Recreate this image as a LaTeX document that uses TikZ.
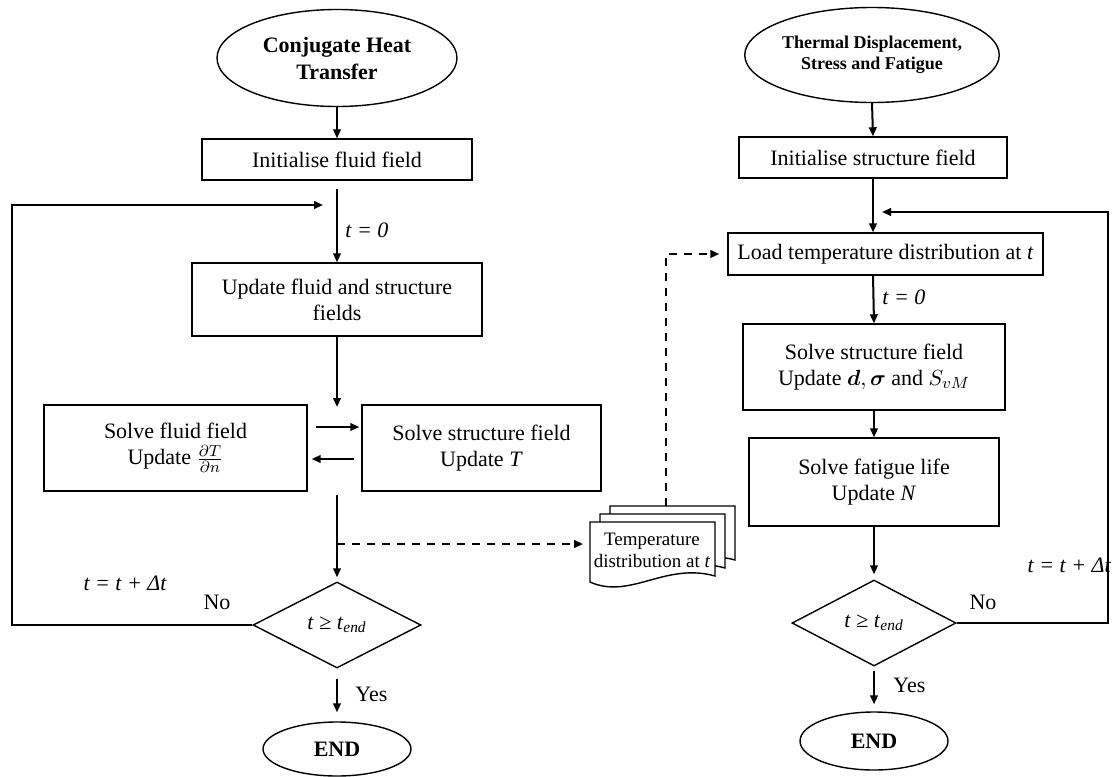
\documentclass[tikz,border=0pt]{standalone}
\usepackage{amsmath,bm}
\usepackage{fontspec}
\setmainfont{Liberation Serif}
\usetikzlibrary{shapes.geometric,arrows.meta,calc}
\begin{document}
\begin{tikzpicture}[x=0.5pt,y=-0.5pt,
 box/.style={draw,line width=0.7pt,rectangle,inner sep=0pt,align=center,font=\fontsize{11}{13}\selectfont},
 oval/.style={draw,line width=0.7pt,ellipse,inner sep=0pt,align=center},
 dec/.style={draw,line width=0.7pt,diamond,inner sep=0pt,font=\fontsize{11}{13}\selectfont},
 arr/.style={line width=1pt,-{Triangle[length=4.5pt,width=3.8pt]}},
 dasharr/.style={arr,dash pattern=on 4pt off 3.5pt},
 lbl/.style={font=\fontsize{11}{13}\selectfont\itshape,inner sep=0pt},
 plain/.style={font=\fontsize{11}{13}\selectfont,inner sep=0pt},
 docshape/.style={draw,line width=0.7pt,fill=white}]
\useasboundingbox (0,0) rectangle (1112,776);

% left column
\node[oval,minimum width=120pt,minimum height=48.5pt,font=\fontsize{11}{13.5}\selectfont\bfseries] (cht) at (337,58) {Conjugate Heat\\Transfer};
\node[box,minimum width=135pt,minimum height=20.5pt] (initf) at (337,159.5) {Initialise fluid field};
\node[box,minimum width=145pt,minimum height=36.5pt] (upd) at (337,299.5) {Update fluid and structure\\fields};
\node[box,minimum width=131.5pt,minimum height=43pt] (sff) at (175.5,448) {Solve fluid field\\Update $\frac{\partial T}{\partial n}$};
\node[box,minimum width=119.5pt,minimum height=43pt] (ssf) at (481.5,448) {Solve structure field\\Update \textit{T}};
\node[dec,minimum width=84pt,minimum height=43pt] (dl) at (337,625) {\textit{t} ≥ \textit{t}\textsubscript{\textit{end}}};
\node[oval,minimum width=74pt,minimum height=27pt,font=\fontsize{11}{13}\selectfont\bfseries] (endl) at (337,749) {END};

% right column
\node[oval,minimum width=122pt,minimum height=47.5pt,font=\fontsize{9}{10.5}\selectfont\bfseries] (tds) at (872,55) {Thermal Displacement,\\Stress and Fatigue};
\node[box,minimum width=134pt,minimum height=20.5pt] (inits) at (873,157.5) {Initialise structure field};
\node[box,minimum width=157.5pt,minimum height=21pt] (load) at (885.5,254) {Load temperature distribution at \textit{t}};
\node[box,minimum width=131pt,minimum height=43pt] (ssr) at (874,367) {Solve structure field\\Update $\boldsymbol{d},\boldsymbol{\sigma}$ and $S_{vM}$};
\node[box,minimum width=125pt,minimum height=44pt] (fat) at (874,482) {Solve fatigue life\\Update \textit{N}};
\node[dec,minimum width=82pt,minimum height=43pt] (dr) at (874,623) {\textit{t} ≥ \textit{t}\textsubscript{\textit{end}}};
\node[oval,minimum width=74pt,minimum height=29pt,font=\fontsize{11}{13}\selectfont\bfseries] (endr) at (874,741) {END};

% document stack
\foreach \dx/\dy in {20/-16,10/-8,0/0}{
  \begin{scope}[shift={(\dx,\dy)}]
    \draw[docshape] (590,522) -- (715,522) -- (715,576) .. controls (665,562) and (630,600) .. (590,582) -- cycle;
  \end{scope}
}
\node[font=\fontsize{9.5}{11}\selectfont,align=center,inner sep=0pt] (doc) at (652,550) {Temperature\\distribution at \textit{t}};
\coordinate (docTop) at (666,506);
\coordinate (docIn) at (583,544);

% coordinates
\coordinate (fbin) at (323,205);
\coordinate (fbl) at (12,625);
\coordinate (mid) at (337,407);
\coordinate (midb) at (337,495);
\coordinate (dsh) at (337,544);
\coordinate (fbr) at (1108,623);
\coordinate (fbrin) at (882,212);

% left connectors
\draw[arr] (cht.south) -- (initf.north);
\draw[arr,shorten <=4pt] (initf.south) -- (upd.north);
\draw[arr] (upd.south) -- (mid);
\draw[arr] ($(sff.east)+(8,-21)$) -- ($(ssf.west)+(-2,-21)$);
\draw[arr] ($(ssf.west)+(-7,11)$) -- ($(sff.east)+(4,11)$);
\draw[arr,shorten >=2pt] (midb) -- (dl.north);
\draw[arr] (dl.west) -- (fbl) |- (fbin);
\draw[arr,shorten <=5pt,shorten >=4.5pt] (dl.south) -- (endl.north);
\draw[dasharr] (dsh) -- (docIn);

% right connectors
\draw[arr] (tds.south) -- (inits.north);
\draw[arr] (inits.south) -- (inits.south |- load.north);
\draw[arr] (inits.south |- load.south) -- (ssr.north);
\draw[arr] (ssr.south) -- (fat.north);
\draw[arr,shorten >=2.5pt] (fat.south) -- (dr.north);
\draw[arr] (dr.east) -- (fbr) |- (fbrin);
\draw[arr,shorten <=2pt,shorten >=3.5pt] (dr.south) -- (endr.north);
\draw[dasharr,shorten >=4pt] (docTop) |- (load.west);

% labels
\node[lbl,anchor=west] at (345,230) {t = 0};
\node[lbl,anchor=west] at (882,297) {t = 0};
\node[lbl] at (125,583) {t = t + Δt};
\node[lbl,anchor=east] at (1111,565) {t = t + Δt};
\node[plain] at (217,602) {No};
\node[plain] at (983,602) {No};
\node[plain,anchor=west] at (355,694) {Yes};
\node[plain,anchor=west] at (893,685) {Yes};
\end{tikzpicture}
\end{document}
